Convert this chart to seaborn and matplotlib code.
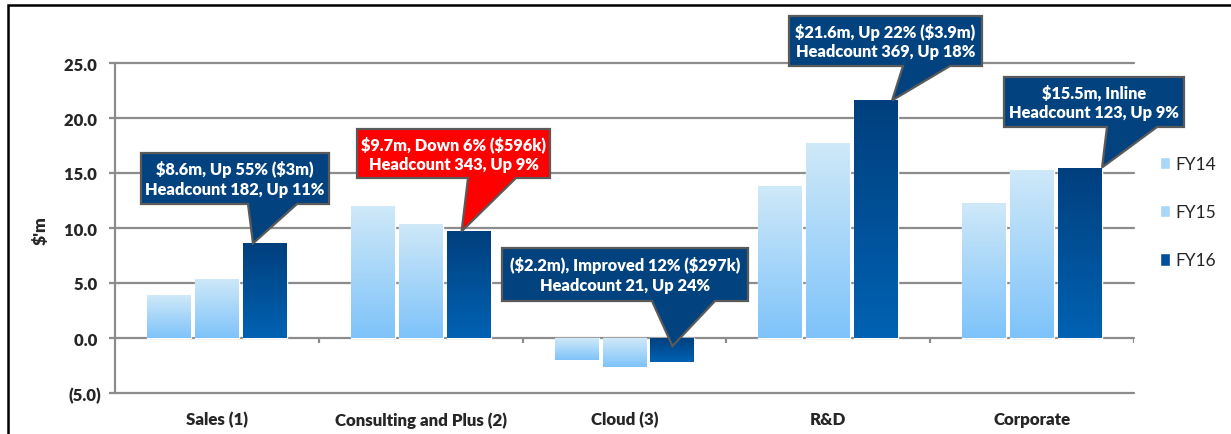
import numpy as np
import pandas as pd
import matplotlib
matplotlib.use('Agg')
import matplotlib.pyplot as plt
from matplotlib.colors import LinearSegmentedColormap
from matplotlib.patches import Polygon, Rectangle, Patch
from matplotlib.transforms import IdentityTransform
import seaborn as sns

# chart data ($'m)
segments = ['Sales (1)', 'Consulting and Plus (2)', 'Cloud (3)', 'R&D', 'Corporate']
years = ['FY14', 'FY15', 'FY16']
fy14 = [3.9, 12.0, -2.0, 13.8, 12.3]
fy15 = [5.4, 10.4, -2.6, 17.7, 15.3]
fy16 = [8.6, 9.7, -2.2, 21.6, 15.5]
yticks = [-5, 0, 5, 10, 15, 20, 25]

callout_text = [
    '$8.6m, Up 55% ($3m)\nHeadcount 182, Up 11%',
    '$9.7m, Down 6% ($596k)\nHeadcount 343, Up 9%',
    '($2.2m), Improved 12% ($297k)\nHeadcount 21, Up 24%',
    '$21.6m, Up 22% ($3.9m)\nHeadcount 369, Up 18%',
    '$15.5m, Inline\nHeadcount 123, Up 9%',
]
callout_color = ['#02437F', '#FF0000', '#02437F', '#02437F', '#02437F']
# box in image pixels: left, right, top, bottom, pointer base x1, x2
callout_box = [
    (141, 329, 154, 205, 248, 297),
    (357, 550, 130, 179, 468, 516),
    (502, 748, 249, 302, 652, 715),
    (789, 982, 17, 67, 903, 950),
    (1004, 1184, 78, 128, 1107, 1157),
]
# where along the FY16 bar the pointer lands (0 = left edge, 1 = right edge)
callout_tip = [0.23, 0.34, 0.5, 0.86, 1.0]

W, H = 1231, 435

df = pd.DataFrame({
    'segment': segments * 3,
    'year': [y for y in years for _ in segments],
    'value': fy14 + fy15 + fy16,
})

sns.set_style('white')
plt.rcParams['font.family'] = ['Lato', 'DejaVu Sans']
plt.rcParams['text.parse_math'] = False

fig = plt.figure(figsize=(W / 100, H / 100), dpi=100)
ax = fig.add_axes([115 / W, 41 / H, (1134 - 115) / W, 330 / H])

group_w = 0.706
sns.barplot(data=df, x='segment', y='value', hue='year', order=segments, hue_order=years,
            palette=['#A8D7F9', '#A8D7F9', '#00509C'], saturation=1, width=group_w, gap=0.083,
            legend=False, ax=ax, zorder=2)

ax.set_xlim(-0.5, 4.5)
ax.set_ylim(-5, 25)

# gradient fills on the bars
light = LinearSegmentedColormap.from_list('light', ['#CFE9F8', '#7EC3FA'])
dark = LinearSegmentedColormap.from_list('dark', ['#003F7D', '#0062B3'])
grad = np.linspace(0, 1, 256).reshape(-1, 1)
for cont, cmap in zip(ax.containers, [light, light, dark]):
    for bar in cont:
        x0, y0 = bar.get_x(), bar.get_y()
        w, h = bar.get_width(), bar.get_height()
        im = ax.imshow(grad, cmap=cmap, extent=(x0, x0 + w, min(y0, y0 + h), max(y0, y0 + h)),
                       origin='upper', aspect='auto', zorder=2.5)
        im.set_clip_path(bar)
ax.set_xlim(-0.5, 4.5)
ax.set_ylim(-5, 25)

grid_c = '#8C8C8C'
for v in yticks:
    ax.axhline(v, color=grid_c, lw=1.6, zorder=1, clip_on=False)
ax.vlines(np.arange(5) + 0.5, -0.45, 0, color=grid_c, lw=1.6, zorder=1)

for s in ['top', 'right', 'bottom']:
    ax.spines[s].set_visible(False)
ax.spines['left'].set_color(grid_c)
ax.spines['left'].set_linewidth(1.6)

ax.set_yticks(yticks)
ax.set_yticklabels([f'({abs(v):.1f})' if v < 0 else f'{v:.1f} ' for v in yticks],
                   fontweight='heavy', fontsize=12)
ax.tick_params(axis='y', length=4, width=1.6, color=grid_c, pad=6, left=True)
ax.tick_params(axis='x', length=0, pad=13, labelsize=12.2)
for lab in ax.get_xticklabels():
    lab.set_fontweight('heavy')
ax.set_xlabel('')
ax.set_ylabel('')
ax.grid(False)

fig.text(41 / W, (H - 231) / H, "$'m", rotation=90, ha='center', va='center',
         fontweight='heavy', fontsize=12.5)

handles = [Patch(facecolor=c) for c in ['#A8D7F9', '#A8D7F9', '#00509C']]
fig.legend(handles, years, loc='upper left', bbox_to_anchor=(1160 / W, (H - 157) / H),
           frameon=False, handlelength=0.55, handleheight=0.75, handletextpad=0.35,
           labelspacing=1.85, fontsize=12.5, borderpad=0, borderaxespad=0)

# callout boxes pointing at the FY16 bars
step = group_w / 3
bar_w = step * (1 - 0.083)
for i, (txt, col, box, frac) in enumerate(zip(callout_text, callout_color, callout_box, callout_tip)):
    v = fy16[i]
    tip_x = i + step + (frac - 0.5) * bar_w
    tip_y = v if v > 0 else v / 3
    tx, ty = ax.transData.transform((tip_x, tip_y))
    L, R, T, B, b1, b2 = box
    pts = [(L, H - T), (R, H - T), (R, H - B), (b2, H - B), (tx, ty), (b1, H - B), (L, H - B)]
    fig.add_artist(Polygon(pts, closed=True, transform=IdentityTransform(), facecolor=col,
                           edgecolor='#5A5A5A', lw=1.6, zorder=10))
    fig.text((L + R) / 2 / W, (H - (T + B) / 2) / H, txt, ha='center', va='center',
             color='white', fontweight='heavy', fontsize=11.8, linespacing=1.3, zorder=11)

# outer frame
fig.add_artist(Rectangle((8 / W, -0.5), 2, 0.986 + 0.5, transform=fig.transFigure,
                         fill=False, edgecolor='black', lw=1.8, zorder=20))

fig.savefig('out.png', dpi=100)
